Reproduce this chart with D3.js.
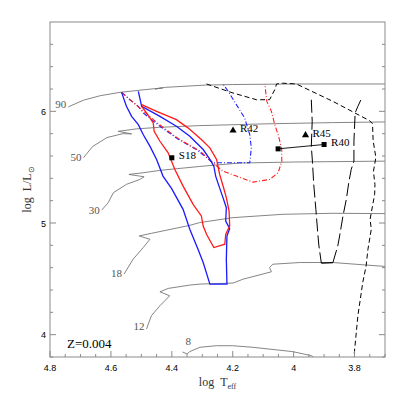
<!DOCTYPE html>
<html>
<head>
<meta charset="utf-8">
<script src="https://cdn.jsdelivr.net/npm/d3@7"></script>
<style>
  body { margin: 0; background: #fff; }
</style>
</head>
<body>
<div id="chart"></div>
<script>
// evolutionary tracks, [log Teff, log L]
var track90 = [[4.74,6.04],[4.69,6.10],[4.635,6.14],[4.57,6.17],[4.485,6.195],[4.43,6.21],[4.455,6.20],[4.42,6.215],[4.29,6.235],[4.2,6.24],[4.0,6.245],[3.7,6.245]];
var track50 = [[4.69,5.585],[4.66,5.685],[4.613,5.765],[4.561,5.80],[4.532,5.798],[4.576,5.821],[4.516,5.843],[4.44,5.857],[4.31,5.872],[4.09,5.888],[3.872,5.899],[3.7,5.905]];
var track30 = [[4.63,5.116],[4.609,5.182],[4.592,5.271],[4.549,5.346],[4.505,5.39],[4.491,5.414],[4.541,5.435],[4.494,5.45],[4.44,5.471],[4.31,5.506],[4.177,5.537],[4.0,5.546],[3.7,5.554]];
var track18 = [[4.557,4.542],[4.527,4.676],[4.494,4.78],[4.472,4.854],[4.507,4.884],[4.466,4.908],[4.341,4.979],[4.308,5.004],[4.199,5.048],[4.035,5.078],[3.871,5.087],[3.7,5.084]];
var track12 = [[4.483,4.051],[4.467,4.17],[4.439,4.259],[4.407,4.348],[4.439,4.384],[4.412,4.414],[4.341,4.444],[4.308,4.453],[4.199,4.462],[4.166,4.497],[4.073,4.563],[4.079,4.602],[4.068,4.631],[3.98,4.646],[3.871,4.646],[3.7,4.611]];
var track8 = [[4.365,3.845],[4.35,3.828],[4.341,3.848],[4.308,3.887],[4.254,3.901],[4.2,3.901],[4.134,3.887],[4.003,3.848],[3.942,3.812],[3.935,3.80]];
var trackNames = ["90", "50", "30", "18", "12", "8"];

// coloured boundaries
var blueSolid = [[4.565,6.17],[4.549,6.045],[4.532,5.955],[4.51,5.881],[4.494,5.792],[4.472,5.688],[4.45,5.569],[4.429,5.42],[4.401,5.31],[4.363,5.122],[4.341,4.944],[4.314,4.765],[4.297,4.646],[4.275,4.453],[4.219,4.453],[4.221,4.676],[4.219,4.884],[4.21,4.95],[4.223,5.018],[4.221,5.137],[4.232,5.227],[4.245,5.33],[4.256,5.42],[4.262,5.509],[4.275,5.569],[4.297,5.658],[4.341,5.777],[4.385,5.866],[4.439,5.955],[4.499,6.045],[4.51,6.179]];
var redSolid = [[4.499,6.06],[4.45,6.0],[4.385,5.926],[4.347,5.852],[4.303,5.747],[4.275,5.673],[4.253,5.569],[4.243,5.435],[4.23,5.316],[4.221,5.227],[4.212,5.107],[4.21,4.973],[4.223,4.899],[4.226,4.81],[4.262,4.78],[4.286,4.899],[4.297,4.973],[4.303,5.063],[4.33,5.167],[4.363,5.33],[4.39,5.479],[4.412,5.629],[4.439,5.732],[4.458,5.821],[4.461,5.896],[4.483,5.986],[4.499,6.045]];
var blueDashDot = [[4.565,6.17],[4.538,6.104],[4.51,6.045],[4.494,5.986],[4.439,5.866],[4.38,5.752],[4.319,5.658],[4.265,5.539],[4.144,5.539],[4.139,5.673],[4.144,5.792],[4.161,5.941],[4.188,6.06],[4.215,6.179],[4.232,6.245]];
var redDashDot = [[4.565,6.17],[4.51,6.04],[4.439,5.877],[4.374,5.747],[4.308,5.645],[4.265,5.539],[4.232,5.464],[4.188,5.42],[4.134,5.366],[4.079,5.39],[4.051,5.45],[4.039,5.551],[4.039,5.658],[4.049,5.774],[4.062,5.881],[4.073,6.0],[4.088,6.089],[4.092,6.179],[4.094,6.245]];

// black dashed lines
var shortDash = [[4.286,6.245],[4.199,6.164],[4.122,6.104],[4.079,6.104],[4.062,6.194],[4.056,6.245],[4.036,6.252],[3.991,6.245],[3.871,6.089],[3.751,5.917],[3.741,5.89],[3.739,5.738],[3.73,5.587],[3.738,5.462],[3.733,5.346],[3.734,5.256],[3.745,5.093],[3.749,5.033],[3.745,4.944],[3.756,4.765],[3.762,4.616],[3.773,4.468],[3.789,4.17],[3.802,3.80]];
var longDashA = [[3.942,6.104],[3.939,5.911],[3.942,5.688],[3.938,5.539],[3.934,5.346],[3.927,5.122],[3.92,4.884],[3.917,4.795],[3.909,4.64]];
var longDashB = [[3.871,4.646],[3.855,4.795],[3.849,4.884],[3.838,5.063],[3.827,5.212],[3.819,5.361],[3.811,5.479],[3.802,5.554],[3.802,5.732],[3.798,5.986],[3.789,6.045],[3.779,6.104]];

// stars
var triNames = ["R42", "R45"];
var triT = [4.199, 3.961];
var triL = [5.828, 5.786];
var sqNames = ["S18", "R40"];
var sqT = [4.40, 3.90];
var sqL = [5.584, 5.703];
var r40Pair = [[4.051,5.664],[3.90,5.703]];

var xMajor = [4.8, 4.6, 4.4, 4.2, 4.0, 3.8];
var yMajor = [4, 5, 6];

var svg = d3.select("#chart").append("svg")
    .attr("width", 407)
    .attr("height", 407);

var margin = { top: 22, right: 22, bottom: 50, left: 50 },
    width = 407 - margin.left - margin.right,
    height = 407 - margin.top - margin.bottom,
    g = svg.append("g").attr("transform", "translate(" + margin.left + "," + margin.top + ")");

var x = d3.scaleLinear().domain([4.8, 3.7]).range([0, width]);
var y = d3.scaleLinear().domain([3.8, 6.8]).range([height, 0]);

var serif = "'Liberation Serif', 'Times New Roman', serif";
var sans = "'Liberation Sans', Arial, sans-serif";
var axisCol = "#8a8a8a";

svg.append("clipPath").attr("id", "clip")
    .append("rect").attr("width", width).attr("height", height);

var line = d3.line()
    .x(function (d) { return x(d[0]); })
    .y(function (d) { return y(d[1]); });

var plot = g.append("g").attr("clip-path", "url(#clip)");

// grey tracks
var tracks = [track90, track50, track30, track18, track12, track8];
plot.selectAll("path.track")
    .data(tracks)
    .enter().append("path")
    .attr("class", "track")
    .attr("d", line)
    .attr("fill", "none")
    .attr("stroke", "#777")
    .attr("stroke-width", 0.9);

// track labels, next to the start of each track
var labOff = [[-2, 1.5], [-2, 3], [-2, 3.5], [-2, 2.5], [-2, 1.5], [3, -7]];
g.append("g")
    .attr("opacity", 0.999)
    .selectAll("text.tlab")
    .data(tracks)
    .enter().append("text")
    .attr("class", "tlab")
    .attr("x", function (d, i) { return x(d[0][0]) + labOff[i][0]; })
    .attr("y", function (d, i) { return y(d[0][1]) + labOff[i][1]; })
    .attr("text-anchor", function (d, i) { return i == 5 ? "start" : "end"; })
    .attr("font-family", serif)
    .attr("font-size", 11)
    .attr("fill", "#555")
    .text(function (d, i) { return trackNames[i]; });

function drawPath(data, color, dash, w) {
    plot.append("path")
        .datum(data)
        .attr("d", line)
        .attr("fill", "none")
        .attr("stroke", color)
        .attr("stroke-width", w)
        .attr("stroke-dasharray", dash);
}

drawPath(blueDashDot, "#2020ff", "5,2,1,2", 1.1);
drawPath(redDashDot, "#ff2020", "5,2,1,2", 1.1);
drawPath(blueSolid, "#1a1aff", null, 1.3);
drawPath(redSolid, "#ff1a1a", null, 1.3);
drawPath(shortDash, "#000", "5,3", 1);
drawPath(longDashA, "#000", "13,4", 1);
drawPath(longDashB, "#000", "13,4", 1);
drawPath([longDashA[longDashA.length - 1], longDashB[0]], "#000", null, 1.3);
drawPath(r40Pair, "#000", null, 0.9);

// markers
var tri = d3.symbol().type(d3.symbolTriangle).size(22);
g.selectAll("path.tri")
    .data(triNames)
    .enter().append("path")
    .attr("class", "tri")
    .attr("d", tri)
    .attr("transform", function (d, i) { return "translate(" + x(triT[i]) + "," + y(triL[i]) + ")"; })
    .attr("fill", "#000");

g.selectAll("rect.sq")
    .data([[sqT[0], sqL[0]], [sqT[1], sqL[1]], r40Pair[0]])
    .enter().append("rect")
    .attr("class", "sq")
    .attr("x", function (d) { return x(d[0]) - 2.5; })
    .attr("y", function (d) { return y(d[1]) - 2.5; })
    .attr("width", 5)
    .attr("height", 5)
    .attr("fill", "#000");

var starNames = triNames.concat(sqNames);
var starT = triT.concat(sqT);
var starL = triL.concat(sqL);
g.selectAll("text.star")
    .data(starNames)
    .enter().append("text")
    .attr("class", "star")
    .attr("x", function (d, i) { return x(starT[i]) + 7; })
    .attr("y", function (d, i) { return y(starL[i]) + 1.5; })
    .attr("font-family", serif)
    .attr("font-size", 11)
    .attr("fill", "#000")
    .text(function (d) { return d; });

// frame and ticks
g.append("rect")
    .attr("width", width)
    .attr("height", height)
    .attr("fill", "none")
    .attr("stroke", axisCol)
    .attr("stroke-width", 1);

var xMinor = d3.range(0, 23).map(function (i) { return 3.7 + i * 0.05; });
var yMinor = d3.range(0, 15).map(function (i) { return 3.8 + i * 0.2; });

var ticks = g.append("g").attr("stroke", axisCol).attr("stroke-width", 1);
ticks.selectAll("line.xt")
    .data(xMinor)
    .enter().append("line")
    .attr("x1", function (d) { return x(d); })
    .attr("x2", function (d) { return x(d); })
    .attr("y1", height)
    .attr("y2", function (d) {
        var major = xMajor.some(function (m) { return Math.abs(m - d) < 1e-6; });
        return height - (major ? 6 : 3);
    });
["left", "right"].forEach(function (side) {
    ticks.selectAll("line.y" + side)
        .data(yMinor)
        .enter().append("line")
        .attr("y1", function (d) { return y(d); })
        .attr("y2", function (d) { return y(d); })
        .attr("x1", side == "left" ? 0 : width)
        .attr("x2", function (d) {
            var major = yMajor.some(function (m) { return Math.abs(m - d) < 1e-6; });
            var len = major ? 6 : 3;
            return side == "left" ? len : width - len;
        });
});

g.selectAll("text.xl")
    .data(xMajor)
    .enter().append("text")
    .attr("x", function (d) { return x(d); })
    .attr("y", height + 14)
    .attr("text-anchor", "middle")
    .attr("font-family", sans)
    .attr("font-size", 9)
    .text(function (d) { return d3.format("")(d); });

g.selectAll("text.yl")
    .data(yMajor)
    .enter().append("text")
    .attr("x", -4)
    .attr("y", function (d) { return y(d) + 3.5; })
    .attr("text-anchor", "end")
    .attr("font-family", sans)
    .attr("font-size", 9)
    .text(function (d) { return d; });

// axis titles
var xt = g.append("text")
    .attr("x", width / 2)
    .attr("y", height + 29)
    .attr("text-anchor", "middle")
    .attr("font-family", serif)
    .attr("font-size", 12)
    .attr("fill", "#333");
xt.append("tspan").text("log\u00a0\u00a0T");
xt.append("tspan").attr("font-size", 8).attr("dy", 3).text("eff");

var yt = g.append("text")
    .attr("transform", "translate(-19," + (height / 2 + 0) + ") rotate(-90)")
    .attr("text-anchor", "middle")
    .attr("font-family", serif)
    .attr("font-size", 12)
    .attr("fill", "#333");
yt.append("tspan").text("log\u00a0\u00a0L/L");
yt.append("tspan").attr("font-size", 8).attr("dy", 3).text("\u2299");

g.append("text")
    .attr("x", 17)
    .attr("y", height - 9)
    .attr("font-family", serif)
    .attr("font-size", 13)
    .attr("fill", "#000")
    .text("Z=0.004");
</script>
</body>
</html>
